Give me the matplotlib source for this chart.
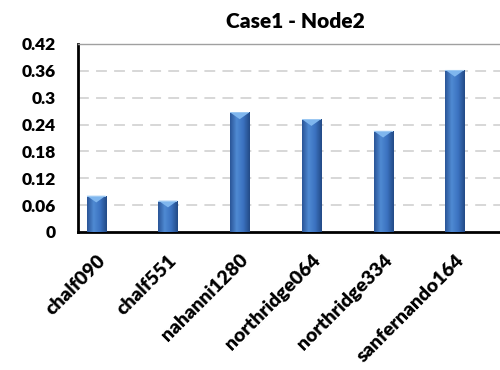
import numpy as np
import matplotlib
matplotlib.use("Agg")
import matplotlib.pyplot as plt
from matplotlib.patches import Polygon
from matplotlib.colors import LinearSegmentedColormap

categories = ["chalf090", "chalf551", "nahanni1280", "northridge064",
              "northridge334", "sanfernando164"]
values = [0.081, 0.070, 0.267, 0.252, 0.226, 0.362]
yticks = [0, 0.06, 0.12, 0.18, 0.24, 0.3, 0.36, 0.42]
ytick_labels = ["0", "0.06", "0.12", "0.18", "0.24", "0.3", "0.36", "0.42"]

plt.rcParams['font.family'] = ['Lato', 'DejaVu Sans']
WEIGHT = "heavy"

fig = plt.figure(figsize=(5.0, 3.7), dpi=100)
ax = fig.add_axes([78 / 500, 1 - 232 / 370, (500 - 78) / 500, (232 - 44) / 370])

x = np.arange(len(categories))
width = 0.265
bars = ax.bar(x, values, width=width, color="#3a6fb8", zorder=3)

# horizontal shading across each bar for a rounded look
cmap = LinearSegmentedColormap.from_list(
    "barshade", ["#2a5597", "#4f8ad3", "#3b72c0", "#234a86"])
grad = np.linspace(0, 1, 64).reshape(1, -1)
for b in bars:
    x0, w, h = b.get_x(), b.get_width(), b.get_height()
    im = ax.imshow(grad, cmap=cmap, aspect="auto", extent=[x0, x0 + w, 0, h],
                   zorder=4, interpolation="bilinear")
    im.set_clip_path(b)
    cap = 0.015
    tri = Polygon([[x0, h], [x0 + w, h], [x0 + w / 2, h - cap]], closed=True,
                  facecolor="#7fb6ee", edgecolor="none", zorder=5)
    ax.add_patch(tri)
    top = Polygon([[x0, h], [x0 + w, h], [x0 + w, h - 0.002], [x0, h - 0.002]],
                  closed=True, facecolor="#9cc8f2", edgecolor="none", zorder=5)
    ax.add_patch(top)

ax.set_xlim(-0.255, 5.63)
ax.set_ylim(0, 0.42)
ax.set_yticks(yticks)
ax.set_yticklabels(ytick_labels, fontsize=12.5, fontweight=WEIGHT)
ax.set_xticks(x)
ax.set_xticklabels(categories, fontsize=14, fontweight=WEIGHT, rotation=45,
                   ha="right", rotation_mode="anchor")
ax.tick_params(axis="x", length=0, pad=14)
ax.tick_params(axis="y", length=0, pad=16)

for yv in yticks[1:-1]:
    ax.axhline(yv, color="#d4d4d4", lw=1.3, ls=(0, (6, 4)), zorder=1)

ax.spines["left"].set_linewidth(2)
ax.spines["bottom"].set_linewidth(2)
ax.spines["left"].set_color("black")
ax.spines["bottom"].set_color("black")
ax.spines["top"].set_color("#a0a0a0")
ax.spines["top"].set_linewidth(1)
ax.spines["right"].set_visible(False)

fig.text(295 / 500, 1 - 22 / 370, "Case1 - Node2", ha="center", va="center",
         fontsize=15, fontweight=WEIGHT)

fig.savefig("out.png", dpi=100)
